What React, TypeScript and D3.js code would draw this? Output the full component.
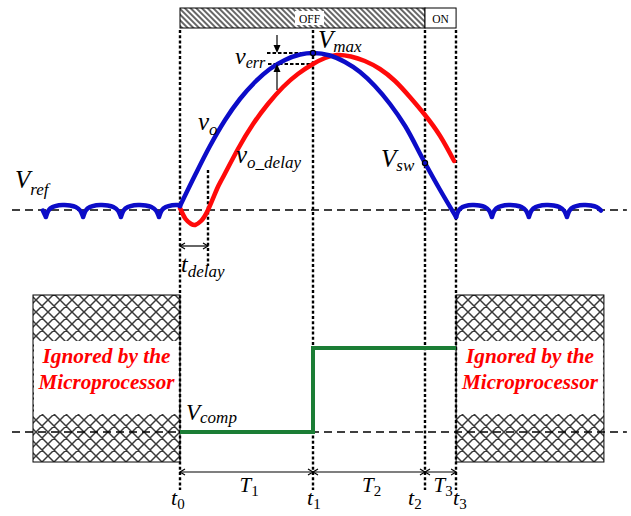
import React from 'react';
import * as d3 from 'd3';

// Switching waveform sketch: output voltage vo, delayed sample, comparator output.
// Time unit = one t_delay, voltage unit = arbitrary (Vref = 0).

const T_MARKS = [0, 4.75, 8.75, 9.86]; // t0, t1, t2, t3
const T_NAMES = ['0', '1', '2', '3'];
const SPAN_NAMES = ['1', '2', '3'];
const DELAY = 1.0;

const BLUE_T = [0, 0.54, 1.07, 1.61, 2.14, 2.68, 3.21, 3.75, 4.29, 4.75, 5.36, 5.89, 6.43, 6.96, 7.5, 8.04, 8.75, 9.29, 9.86];
const BLUE_V = [0.4, 3.5, 6.4, 9.0, 11.1, 12.8, 14.1, 15.0, 15.55, 15.7, 15.45, 14.8, 13.8, 12.4, 10.6, 8.4, 4.7, 2.0, -0.7];

const RED_T = [0, 0.2, 0.4, 0.54, 0.75, 1.0, 1.32, 1.54, 2.07, 2.61, 3.14, 3.68, 4.21, 4.75, 5.18, 5.61, 6.1, 6.6, 7.14, 7.68, 8.21, 8.75, 9.29, 9.79];
const RED_V = [0.2, -0.9, -1.4, -1.5, -1.1, 0.0, 2.1, 3.3, 6.1, 8.6, 10.6, 12.3, 13.6, 14.6, 15.2, 15.5, 15.35, 14.9, 14.1, 12.9, 11.3, 9.5, 7.4, 4.9];

// steady-state ripple around Vref
const RIPPLE_LEFT_CUSPS = [-4.79, -3.46, -2.11, -0.75];
const RIPPLE_RIGHT_CUSPS = [9.86, 11.14, 12.46, 13.82];
const RIPPLE_LEFT_START = -4.96;
const RIPPLE_RIGHT_END = 15.07;
const RIPPLE_PHASE = [0, 0.07, 0.18, 0.35, 0.5, 0.65, 0.8, 0.92, 1];
const RIPPLE_V = [-0.7, -0.05, 0.3, 0.48, 0.5, 0.45, 0.3, -0.05, -0.7];

const COMP_T = [0, 4.75, 4.75, 9.86];
const COMP_LEVEL = [0, 0, 1, 1];

const VMAX_T = 4.75;
const VMAX = 15.7;
const VERR_LOW = 14.6;
const VSW_T = 8.75;
const VSW = 4.7;

const BLUE = '#0c0cc8';
const RED = '#ff0a0a';
const GREEN = '#1b7d35';
const SERIF = 'Liberation Serif, Times New Roman, Times, serif';

const W = 631;
const H = 516;

const x = d3.scaleLinear().domain([0, 10]).range([180, 460]);
const yTop = d3.scaleLinear().domain([0, 10]).range([210, 110]);
const yBot = d3.scaleLinear().domain([0, 1]).range([432, 348]);

function rippleArcs(cusps: number[], start: number, end: number) {
  const period = (cusps[cusps.length - 1] - cusps[0]) / (cusps.length - 1);
  const knots = [cusps[0] - period, ...cusps, cusps[cusps.length - 1] + period];
  const arcs: [number, number][][] = [];
  for (let i = 0; i < knots.length - 1; i++) {
    const a = knots[i];
    const b = knots[i + 1];
    const pts: [number, number][] = [];
    RIPPLE_PHASE.forEach((p, j) => {
      const t = a + p * (b - a);
      if (t >= start - 1e-6 && t <= end + 1e-6) pts.push([t, RIPPLE_V[j]]);
    });
    if (pts.length > 1) arcs.push(pts);
  }
  return arcs;
}

function Sym({ x: px, y: py, main, sub, size = 24, subSize = 17, subDy = 6, subItalic = true, anchor = 'start' }: any) {
  return (
    <text x={px} y={py} style={{ fontFamily: SERIF }} fontSize={size} fontStyle="italic" textAnchor={anchor}>
      {main}
      <tspan fontSize={subSize} dy={subDy} fontStyle={subItalic ? 'italic' : 'normal'}>
        {sub}
      </tspan>
    </text>
  );
}

export default function App() {
  const blueCurve = d3
    .line<[number, number]>()
    .x((d) => x(d[0]))
    .y((d) => yTop(d[1]))
    .curve(d3.curveMonotoneX);
  const redCurve = d3
    .line<[number, number]>()
    .x((d) => x(d[0]))
    .y((d) => yTop(d[1]))
    .curve(d3.curveNatural);
  const arcLine = d3
    .line<[number, number]>()
    .x((d) => x(d[0]))
    .y((d) => yTop(d[1]))
    .curve(d3.curveCardinal.tension(0.2));

  const bluePts = BLUE_T.map((t, i) => [t, BLUE_V[i]] as [number, number]);
  const redPts = RED_T.map((t, i) => [t, RED_V[i]] as [number, number]);

  const leftArcs = rippleArcs(RIPPLE_LEFT_CUSPS, RIPPLE_LEFT_START, 0);
  // close the last partial arc onto the start of vo
  leftArcs[leftArcs.length - 1].push(bluePts[0]);
  const rightArcs = rippleArcs(RIPPLE_RIGHT_CUSPS, T_MARKS[3], RIPPLE_RIGHT_END);
  const ripplePath = [...leftArcs, ...rightArcs].map((a) => arcLine(a)).join(' ');

  const compLine = d3
    .line<number>()
    .x((_, i) => x(COMP_T[i]))
    .y((d) => yBot(d));

  const dotTop = 30;
  const dotBottom = 490;
  const axisY = 472;
  const boxTop = 295;
  const boxBottom = 462;
  const bandTop = 341;
  const bandBottom = 414;

  const leftBox = [x(-5.25), x(T_MARKS[0])];
  const rightBox = [x(T_MARKS[3]), x(15.14)];

  const dashX = [x(-6), x(15.96)];

  const head = (px: number, py: number, dir: number) =>
    `M${px + dir * 5},${py - 3} L${px},${py} L${px + dir * 5},${py + 3}`;

  const ax = 277;
  const dotted = { stroke: '#000', strokeWidth: 2.4, strokeDasharray: '3 2.2' };

  return (
    <svg width={W} height={H} style={{ position: 'absolute', left: 0, top: 0, background: '#fff' }}>
      <defs>
        <pattern id="cross" patternUnits="userSpaceOnUse" width={12} height={12}>
          <path d="M0,0 L12,12 M12,0 L0,12 M-3,9 L3,15 M9,-3 L15,3 M-3,3 L3,-3 M9,15 L15,9" stroke="#3a3a3a" strokeWidth={1.5} />
        </pattern>
        <pattern id="diag" patternUnits="userSpaceOnUse" width={4} height={4} patternTransform="rotate(-45)">
          <line x1={1} y1={0} x2={1} y2={4} stroke="#333" strokeWidth={1.5} />
        </pattern>
      </defs>

      {/* OFF / ON bar */}
      <rect x={x(T_MARKS[0])} y={8} width={x(T_MARKS[2]) - x(T_MARKS[0])} height={20} fill="url(#diag)" stroke="#000" strokeWidth={1} />
      <rect x={295} y={11} width={29} height={14} fill="#fff" />
      <text x={309.5} y={22.5} style={{ fontFamily: SERIF }} fontSize={11.5} textAnchor="middle">OFF</text>
      <rect x={x(T_MARKS[2])} y={8} width={x(T_MARKS[3]) - x(T_MARKS[2])} height={20} fill="#fff" stroke="#000" strokeWidth={1} />
      <text x={(x(T_MARKS[2]) + x(T_MARKS[3])) / 2} y={22.5} style={{ fontFamily: SERIF }} fontSize={11.5} textAnchor="middle">ON</text>

      {/* ignored regions */}
      {[leftBox, rightBox].map((b, i) => (
        <g key={`box-${i}`}>
          <rect x={b[0]} y={boxTop} width={b[1] - b[0]} height={boxBottom - boxTop} fill="url(#cross)" stroke="#000" strokeWidth={1} />
          <rect x={b[0] + 1} y={bandTop} width={b[1] - b[0] - 2} height={bandBottom - bandTop} fill="#fff" />
          <text x={(b[0] + b[1]) / 2} y={363} style={{ fontFamily: SERIF }} fontSize={20} fontWeight="bold" fontStyle="italic" fill="#ff0000" textAnchor="middle" textLength={128} lengthAdjust="spacingAndGlyphs">
            Ignored by the
          </text>
          <text x={(b[0] + b[1]) / 2} y={389} style={{ fontFamily: SERIF }} fontSize={20} fontWeight="bold" fontStyle="italic" fill="#ff0000" textAnchor="middle" textLength={136} lengthAdjust="spacingAndGlyphs">
            Microprocessor
          </text>
        </g>
      ))}

      {/* reference levels */}
      <line x1={dashX[0]} x2={dashX[1]} y1={yTop(0)} y2={yTop(0)} stroke="#000" strokeWidth={1.4} strokeDasharray="8 5" />
      <line x1={dashX[0]} x2={dashX[1]} y1={yBot(0)} y2={yBot(0)} stroke="#000" strokeWidth={1.4} strokeDasharray="8 5" />

      {/* time marks */}
      {T_MARKS.map((t, i) => (
        <line key={`tm-${i}`} x1={Math.round(x(t))} x2={Math.round(x(t))} y1={dotTop} y2={dotBottom} {...dotted} />
      ))}
      <line x1={Math.round(x(DELAY))} x2={Math.round(x(DELAY))} y1={170} y2={266} {...dotted} />

      {/* v_err guides */}
      <line x1={267} x2={x(VMAX_T)} y1={yTop(VMAX)} y2={yTop(VMAX)} stroke="#000" strokeWidth={1.8} strokeDasharray="3.5 2" />
      <line x1={268} x2={x(VMAX_T)} y1={yTop(VERR_LOW)} y2={yTop(VERR_LOW)} stroke="#000" strokeWidth={1.8} strokeDasharray="3.5 2" />

      {/* waveforms */}
      <path d={redCurve(redPts) ?? ''} fill="none" stroke={RED} strokeWidth={4.5} strokeLinecap="round" strokeLinejoin="round" />
      <path d={blueCurve(bluePts) ?? ''} fill="none" stroke={BLUE} strokeWidth={4.5} strokeLinecap="round" strokeLinejoin="round" />
      <path d={ripplePath} fill="none" stroke={BLUE} strokeWidth={4.5} strokeLinecap="round" strokeLinejoin="round" />
      <path d={compLine(COMP_LEVEL) ?? ''} fill="none" stroke={GREEN} strokeWidth={4} />

      <circle cx={x(VMAX_T)} cy={yTop(VMAX)} r={2.6} fill={BLUE} stroke="#000" strokeWidth={1.2} />
      <circle cx={x(VSW_T)} cy={yTop(VSW)} r={2.6} fill={BLUE} stroke="#000" strokeWidth={1.2} />

      {/* v_err arrows */}
      <line x1={ax} x2={ax} y1={35} y2={yTop(VMAX) - 7} stroke="#000" strokeWidth={1.2} />
      <path d={`M${ax - 3.5},${yTop(VMAX) - 8} L${ax + 3.5},${yTop(VMAX) - 8} L${ax},${yTop(VMAX)} Z`} fill="#000" />
      <line x1={ax} x2={ax} y1={90} y2={yTop(VERR_LOW) + 7} stroke="#000" strokeWidth={1.2} />
      <path d={`M${ax - 3.5},${yTop(VERR_LOW) + 8} L${ax + 3.5},${yTop(VERR_LOW) + 8} L${ax},${yTop(VERR_LOW)} Z`} fill="#000" />

      {/* t_delay arrow */}
      <line x1={x(0)} x2={x(DELAY)} y1={246} y2={246} stroke="#000" strokeWidth={1.2} />
      <path d={head(x(0), 246, 1) + ' ' + head(x(DELAY), 246, -1)} fill="none" stroke="#000" strokeWidth={1.2} />

      {/* time axis with spans */}
      <line x1={x(T_MARKS[0])} x2={x(T_MARKS[3])} y1={axisY} y2={axisY} stroke="#000" strokeWidth={1.2} />
      {SPAN_NAMES.map((n, i) => {
        const a = x(T_MARKS[i]);
        const b = x(T_MARKS[i + 1]);
        return (
          <g key={`span-${n}`}>
            <path d={head(a, axisY, 1) + ' ' + head(b, axisY, -1)} fill="none" stroke="#000" strokeWidth={1.2} />
            <Sym x={(a + b) / 2 - 7} y={492} main="T" sub={n} size={21} subSize={15} subDy={4} subItalic={false} />
          </g>
        );
      })}
      {T_NAMES.map((n, i) => {
        const shift = [-9, -6, -17, -3][i];
        return <Sym key={`tn-${n}`} x={x(T_MARKS[i]) + shift} y={505} main="t" sub={n} size={22} subSize={15} subDy={4} subItalic={false} />;
      })}

      {/* symbol labels */}
      <Sym x={15} y={188} main="V" sub="ref" size={25} subSize={17} subDy={7} />
      <Sym x={198} y={130} main="v" sub="o" size={25} subSize={17} subDy={5} />
      <Sym x={236} y={163} main="v" sub="o_delay" size={25} subSize={17} subDy={5} />
      <Sym x={318} y={48} main="V" sub="max" size={25} subSize={17} subDy={4} />
      <Sym x={235} y={64} main="v" sub="err" size={24} subSize={16} subDy={4} />
      <Sym x={381} y={167} main="V" sub="sw" size={25} subSize={17} subDy={4} />
      <Sym x={181} y={272} main="t" sub="delay" size={24} subSize={17} subDy={5} />
      <Sym x={186} y={420} main="V" sub="comp" size={23} subSize={17} subDy={3} />
    </svg>
  );
}
